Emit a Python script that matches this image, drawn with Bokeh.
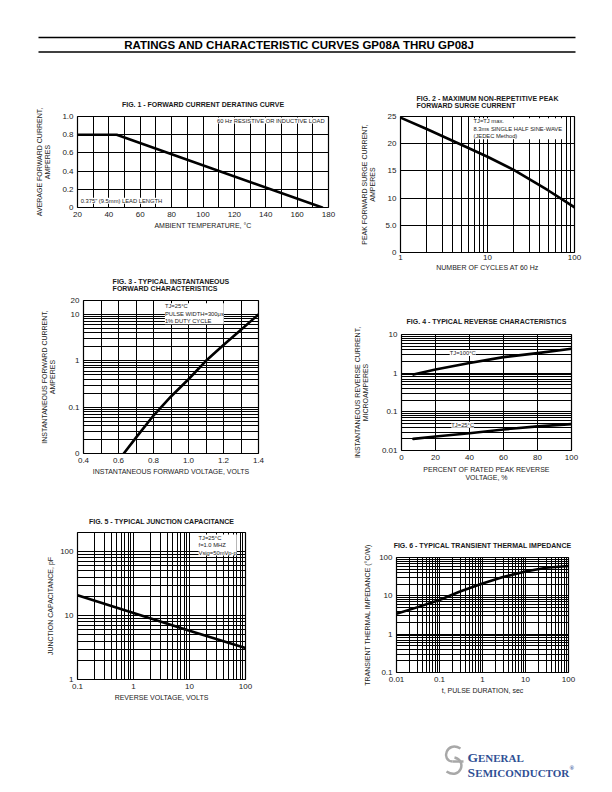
from bokeh.plotting import figure
from bokeh.models import FixedTicker, Label, Range1d
from bokeh.layouts import column, row
from bokeh.embed import file_html
from bokeh.resources import INLINE
from bokeh.core.properties import value

FONT = "Liberation Sans"
INK = "#1a1a1a"

# ---------------- data ----------------
# Fig. 1  forward current derating
f1_temp = [20, 45, 176]
f1_current = [0.80, 0.80, 0.0]
f1_xticks = [20, 40, 60, 80, 100, 120, 140, 160, 180]
f1_xlabels = ["20", "40", "60", "80", "100", "120", "140", "160", "180"]
f1_xminor = [30, 50, 70, 90, 110, 130, 150, 170]
f1_yticks = [0, 0.2, 0.4, 0.6, 0.8, 1.0]
f1_ylabels = ["0", "0.2", "0.4", "0.6", "0.8", "1.0"]

# Fig. 2  peak forward surge current
f2_cycles = [1, 2, 5, 10, 20, 50, 100]
f2_amps = [24.8, 22.7, 19.8, 17.6, 15.2, 11.4, 8.3]
f2_xticks = [1, 10, 100]
f2_xlabels = ["1", "10", "100"]
f2_yticks = [0, 5, 10, 15, 20, 25]
f2_ylabels = ["0", "5.0", "10", "15", "20", "25"]

# Fig. 3  instantaneous forward characteristics
f3_volts = [0.63, 0.7, 0.8, 0.9, 1.0, 1.1, 1.2, 1.3, 1.4]
f3_amps = [0.01, 0.022, 0.066, 0.17, 0.40, 1.0, 2.2, 4.7, 10.0]
f3_xticks = [0.4, 0.6, 0.8, 1.0, 1.2, 1.4]
f3_xlabels = ["0.4", "0.6", "0.8", "1.0", "1.2", "1.4"]
f3_xminor = [0.5, 0.7, 0.9, 1.1, 1.3]
f3_yticks = [0.01, 0.1, 1, 10, 20]
f3_ylabels = ["0", "0.1", "1", "10", "20"]

# Fig. 4  reverse characteristics
f4_pct = [7, 20, 40, 60, 80, 100]
f4_hot = [0.92, 1.24, 1.83, 2.6, 3.3, 4.3]
f4_cold = [0.020, 0.023, 0.028, 0.035, 0.042, 0.048]
f4_xticks = [0, 20, 40, 60, 80, 100]
f4_xlabels = ["0", "20", "40", "60", "80", "100"]
f4_yticks = [0.01, 0.1, 1, 10]
f4_ylabels = ["0.01", "0.1", "1", "10"]

# Fig. 5  junction capacitance
f5_volts = [0.1, 1, 10, 100]
f5_pf = [20.8, 11.0, 5.8, 3.1]
f5_xticks = [0.1, 1, 10, 100]
f5_xlabels = ["0.1", "1", "10", "100"]
f5_yticks = [1, 10, 100]
f5_ylabels = ["1", "10", "100"]

# Fig. 6  transient thermal impedance
f6_time = [0.01, 0.03, 0.1, 0.3, 1, 3, 10, 30, 100]
f6_imp = [3.4, 5.0, 7.8, 13.0, 21.0, 31.0, 43.0, 54.0, 60.0]
f6_xticks = [0.01, 0.1, 1, 10, 100]
f6_xlabels = ["0.01", "0.1", "1", "10", "100"]
f6_yticks = [0.1, 1, 10, 100]
f6_ylabels = ["0.1", "1", "10", "100"]


def log_minors(decades):
    return [m * d for d in decades for m in range(2, 10)]


def chart(w, h, border, xr, yr, xtype, ytype, title, xlabel, ylabel,
          xticks, xlabels, xminor, yticks, ylabels, yminor,
          title_standoff=15, ylab_standoff=3, xlab_standoff=3, xtick_standoff=4):
    l, r, t, b = border
    p = figure(width=w, height=h, x_range=Range1d(*xr), y_range=Range1d(*yr),
               x_axis_type=xtype, y_axis_type=ytype, output_backend="svg",
               toolbar_location=None, tools="")
    p.frame_align = False
    p.min_border_left = l
    p.min_border_right = r
    p.min_border_top = t
    p.min_border_bottom = b
    p.outline_line_color = "black"
    p.outline_line_width = 1.2
    p.outline_line_alpha = 1.0
    p.background_fill_color = "white"
    p.border_fill_color = "white"
    p.title.text = title
    p.title.align = "center"
    p.title.text_font = FONT
    p.title.text_font_size = "7px"
    p.title.text_font_style = "bold"
    p.title.text_color = INK
    p.title.standoff = title_standoff
    p.xaxis.axis_label = xlabel
    p.yaxis.axis_label = ylabel
    for ax in p.axis:
        ax.axis_line_color = None
        ax.major_tick_line_color = None
        ax.minor_tick_line_color = None
        ax.major_tick_in = 0
        ax.major_tick_out = 0
        ax.minor_tick_in = 0
        ax.minor_tick_out = 0
        ax.major_label_text_font = FONT
        ax.major_label_text_font_size = "8px"
        ax.major_label_text_color = INK
        ax.major_label_standoff = 4
        ax.axis_label_text_font = FONT
        ax.axis_label_text_font_size = "7px"
        ax.axis_label_text_font_style = "normal"
        ax.axis_label_text_color = INK
    p.xaxis.major_label_standoff = xtick_standoff
    p.xaxis.axis_label_standoff = xlab_standoff
    p.yaxis.axis_label_standoff = ylab_standoff
    p.xaxis.ticker = FixedTicker(ticks=xticks)
    p.xaxis.major_label_overrides = {k: s for k, s in zip(xticks, xlabels)}
    p.yaxis.ticker = FixedTicker(ticks=yticks)
    p.yaxis.major_label_overrides = {k: s for k, s in zip(yticks, ylabels)}
    p.xgrid.ticker = FixedTicker(ticks=xticks, minor_ticks=xminor)
    p.ygrid.ticker = FixedTicker(ticks=yticks, minor_ticks=yminor)
    for g in (p.xgrid, p.ygrid):
        g.grid_line_color = "black"
        g.grid_line_width = 1
        g.grid_line_alpha = 1
        g.minor_grid_line_color = "black"
        g.minor_grid_line_width = 1
        g.minor_grid_line_alpha = 1
    return p


def note(p, x, y, text, align="left", baseline="top"):
    p.add_layout(Label(x=x, y=y, text=text, text_align=align, text_baseline=baseline,
                       text_font=FONT, text_font_size="5.8px", text_color=INK,
                       text_line_height=1.25,
                       background_fill_color="white", background_fill_alpha=1.0))


CURVE = dict(line_color="black", line_width=2.6, line_join="round", line_cap="round")

# ---------- Fig 1 ----------
f1 = chart(350, 178, (77, 22, 54, 33), (20, 180), (0, 1.0), "linear", "linear",
           "FIG. 1 - FORWARD CURRENT DERATING CURVE",
           "AMBIENT TEMPERATURE, °C", "AVERAGE FORWARD CURRENT,\nAMPERES",
           f1_xticks, f1_xlabels, f1_xminor, f1_yticks, f1_ylabels, [],
           title_standoff=18, ylab_standoff=8, xlab_standoff=2)
f1.line(f1_temp, f1_current, **CURVE)
note(f1, 177.5, 0.955, "60 Hz RESISTIVE OR INDUCTIVE LOAD", align="right", baseline="middle")
note(f1, 22, 0.075, "0.375\" (9.5mm) LEAD LENGTH", align="left", baseline="middle")

# ---------- Fig 2 ----------
f2 = chart(254, 218, (50, 30, 54, 28), (1, 100), (0, 25), "log", "linear",
           "FIG. 2 - MAXIMUM NON-REPETITIVE PEAK\nFORWARD SURGE CURRENT",
           "NUMBER OF CYCLES AT 60 Hz", "PEAK FORWARD SURGE CURRENT,\nAMPERES",
           f2_xticks, f2_xlabels, log_minors([1, 10]), f2_yticks, f2_ylabels, [],
           title_standoff=15, ylab_standoff=6, xlab_standoff=1, xtick_standoff=2)
f2.line(f2_cycles, f2_amps, **CURVE)
note(f2, 6.9, 24.7, "TJ=TJ max.\n8.3ms SINGLE HALF SINE-WAVE\n(JEDEC Method)")

# ---------- Fig 3 ----------
f3 = chart(350, 242, (83, 92, 60, 29), (0.4, 1.4), (0.01, 20), "linear", "log",
           "FIG. 3 - TYPICAL INSTANTANEOUS\nFORWARD CHARACTERISTICS",
           "INSTANTANEOUS FORWARD VOLTAGE, VOLTS", "INSTANTANEOUS FORWARD CURRENT,\nAMPERES",
           f3_xticks, f3_xlabels, f3_xminor, f3_yticks, f3_ylabels,
           log_minors([0.01, 0.1, 1]), title_standoff=17, ylab_standoff=9, xlab_standoff=2)
f3.line(f3_volts, f3_amps, **CURVE)
note(f3, 0.865, 17.5, "TJ=25°C\nPULSE WIDTH=300μs\n1% DUTY CYCLE")

# ---------- Fig 4 ----------
f4 = chart(254, 212, (50, 33, 54, 42), (0, 100), (0.01, 10), "linear", "log",
           "FIG. 4 - TYPICAL REVERSE CHARACTERISTICS",
           "PERCENT OF RATED PEAK REVERSE\nVOLTAGE, %", "INSTANTANEOUS REVERSE CURRENT,\nMICROAMPERES",
           f4_xticks, f4_xlabels, [], f4_yticks, f4_ylabels,
           log_minors([0.01, 0.1, 1]), title_standoff=19, ylab_standoff=10)
f4.line(f4_pct, f4_hot, **CURVE)
f4.line(f4_pct, f4_cold, **CURVE)
note(f4, 36, 3.3, "TJ=100°C", align="center", baseline="middle")
note(f4, 36, 0.046, "TJ=25°C", align="center", baseline="middle")

# ---------- Fig 5 ----------
f5 = chart(350, 226, (77, 105, 50, 29), (0.1, 100), (1, 200), "log", "log",
           "FIG. 5 - TYPICAL JUNCTION CAPACITANCE",
           "REVERSE VOLTAGE, VOLTS", "JUNCTION CAPACITANCE, pF",
           f5_xticks, f5_xlabels, log_minors([0.1, 1, 10]), f5_yticks, f5_ylabels,
           log_minors([1, 10]), title_standoff=16, ylab_standoff=3, xlab_standoff=2)
f5.line(f5_volts, f5_pf, **CURVE)
note(f5, 14.5, 186, "TJ=25°C\nf=1.0 MHZ\nVsig=50mVp-p")

# ---------- Fig 6 ----------
f6 = chart(254, 216, (46, 36, 65, 36), (0.01, 100), (0.1, 100), "log", "log",
           "FIG. 6 - TYPICAL TRANSIENT THERMAL IMPEDANCE",
           "t, PULSE DURATION, sec", "TRANSIENT THERMAL IMPEDANCE (°C/W)",
           f6_xticks, f6_xlabels, log_minors([0.01, 0.1, 1, 10]), f6_yticks, f6_ylabels,
           log_minors([0.1, 1, 10]), title_standoff=17, ylab_standoff=5, xlab_standoff=2)
f6.line(f6_time, f6_imp, **CURVE)


def blank(h, y0, y1):
    p = figure(width=604, height=h, x_range=Range1d(0, 604), y_range=Range1d(y1, y0),
               output_backend="svg", toolbar_location=None, tools="", title=None,
               x_axis_location=None, y_axis_location=None, min_border=0)
    p.frame_align = False
    p.grid.visible = False
    p.outline_line_color = None
    p.background_fill_color = "white"
    p.border_fill_color = "white"
    return p


# ---------- header ----------
hdr = blank(62, 0, 62)
hdr.segment(x0=[38, 38], y0=[37, 51.5], x1=[575, 575], y1=[37, 51.5],
            line_color="black", line_width=1.4)
hdr.text(x=[299], y=[44.5], text=["RATINGS AND CHARACTERISTIC CURVES GP08A THRU GP08J"],
         text_font=value(FONT), text_font_size="11.5px", text_font_style="bold",
         text_align="center", text_baseline="middle", text_color="black")

# ---------- footer logo ----------
ftr = blank(80, 708, 788)
BLUE = "#2f4f94"
SERIF = "Liberation Serif"
ftr.bezier(x0=[460, 452, 446], y0=[748, 761, 771],
           x1=[452, 463, 454], y1=[761, 761, 757],
           cx0=[446, 456, 460], cy0=[740, 761, 780],
           cx1=[440, 460, 467], cy1=[760, 761, 760],
           line_color="#a8a8a8", line_width=2.5)
ftr.text(x=[467], y=[757], text=["G"], text_font=value(SERIF), text_font_size="13.5px",
         text_font_style="bold", text_color=BLUE, text_baseline="alphabetic")
ftr.text(x=[477.5], y=[757], text=["ENERAL"], text_font=value(SERIF), text_font_size="11px",
         text_font_style="bold", text_color=BLUE, text_baseline="alphabetic")
ftr.text(x=[467], y=[772], text=["S"], text_font=value(SERIF), text_font_size="13.5px",
         text_font_style="bold", text_color=BLUE, text_baseline="alphabetic")
ftr.text(x=[474.8], y=[772], text=["EMICONDUCTOR"], text_font=value(SERIF), text_font_size="11px",
         text_font_style="bold", text_color=BLUE, text_baseline="alphabetic")
ftr.text(x=[569], y=[767], text=["®"], text_font=value(SERIF), text_font_size="6px",
         text_font_style="bold", text_color=BLUE, text_baseline="alphabetic")

left = column(f1, f3, f5, spacing=0)
right = column(f2, f4, f6, spacing=0)
page = column(hdr, row(left, right, spacing=0), ftr, spacing=0)

open("out.html", "w").write(file_html(page, INLINE))
